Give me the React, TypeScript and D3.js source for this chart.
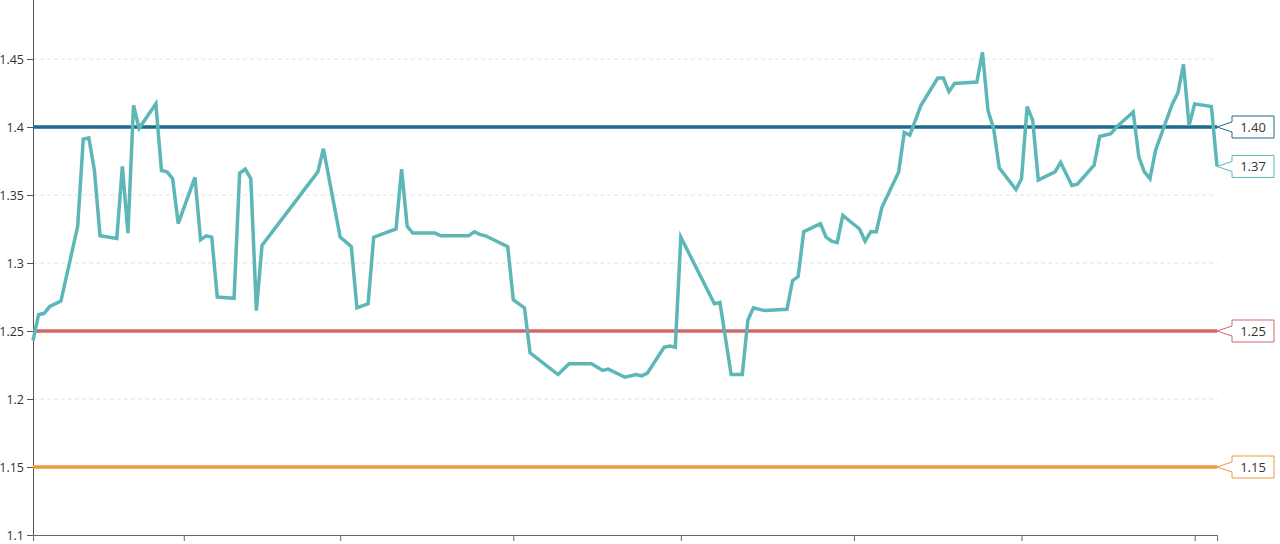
// Rate chart with reference levels
import React, { useRef, useEffect } from "react";
import * as d3 from "d3";

const dates = [
  "2015-01-05", "2015-01-06", "2015-01-07", "2015-01-08", "2015-01-10", "2015-01-13",
  "2015-01-14", "2015-01-15", "2015-01-16", "2015-01-17", "2015-01-20", "2015-01-21",
  "2015-01-22", "2015-01-23", "2015-01-24", "2015-01-27", "2015-01-28", "2015-01-29",
  "2015-01-30", "2015-01-31", "2015-02-03", "2015-02-04", "2015-02-05", "2015-02-06",
  "2015-02-07", "2015-02-10", "2015-02-11", "2015-02-12", "2015-02-13", "2015-02-14",
  "2015-02-15", "2015-02-25", "2015-02-26", "2015-03-01", "2015-03-03", "2015-03-04",
  "2015-03-06", "2015-03-07", "2015-03-11", "2015-03-12", "2015-03-13", "2015-03-14",
  "2015-03-18", "2015-03-19", "2015-03-24", "2015-03-25", "2015-03-26", "2015-03-27",
  "2015-03-31", "2015-04-01", "2015-04-02", "2015-04-03", "2015-04-04", "2015-04-09",
  "2015-04-11", "2015-04-15", "2015-04-17", "2015-04-18", "2015-04-21", "2015-04-23",
  "2015-04-24", "2015-04-25", "2015-04-28", "2015-04-29", "2015-04-30", "2015-05-01",
  "2015-05-07", "2015-05-08", "2015-05-10", "2015-05-12", "2015-05-13", "2015-05-14",
  "2015-05-16", "2015-05-20", "2015-05-21", "2015-05-22", "2015-05-23", "2015-05-26",
  "2015-05-27", "2015-05-28", "2015-05-29", "2015-05-30", "2015-06-02", "2015-06-03",
  "2015-06-04", "2015-06-05", "2015-06-06", "2015-06-09", "2015-06-10", "2015-06-11",
  "2015-06-13", "2015-06-16", "2015-06-17", "2015-06-18", "2015-06-19", "2015-06-23",
  "2015-06-24", "2015-06-25", "2015-06-26", "2015-06-27", "2015-06-30", "2015-07-01",
  "2015-07-02", "2015-07-03", "2015-07-04", "2015-07-07", "2015-07-08", "2015-07-10",
  "2015-07-11", "2015-07-14", "2015-07-15", "2015-07-17", "2015-07-18", "2015-07-21",
  "2015-07-22", "2015-07-23", "2015-07-24", "2015-07-25", "2015-07-28", "2015-07-29",
  "2015-07-30", "2015-07-31", "2015-08-01", "2015-08-04", "2015-08-05",
];

const rates = [
  1.243, 1.262, 1.263, 1.268, 1.272, 1.327,
  1.391, 1.392, 1.368, 1.32, 1.318, 1.371,
  1.322, 1.416, 1.399, 1.417, 1.368, 1.367,
  1.362, 1.329, 1.363, 1.317, 1.32, 1.319,
  1.275, 1.274, 1.366, 1.369, 1.362, 1.265,
  1.313, 1.367, 1.384, 1.319, 1.312, 1.267,
  1.27, 1.319, 1.325, 1.369, 1.327, 1.322,
  1.322, 1.32, 1.32, 1.323, 1.321, 1.32,
  1.312, 1.273, 1.27, 1.267, 1.234, 1.218,
  1.226, 1.226, 1.221, 1.222, 1.216, 1.218,
  1.217, 1.219, 1.238, 1.239, 1.238, 1.319,
  1.27, 1.271, 1.218, 1.218, 1.258, 1.267,
  1.265, 1.266, 1.287, 1.29, 1.323, 1.329,
  1.319, 1.316, 1.315, 1.335, 1.325, 1.316,
  1.323, 1.323, 1.341, 1.367, 1.396, 1.394,
  1.416, 1.436, 1.436, 1.426, 1.432, 1.433,
  1.455, 1.412, 1.399, 1.37, 1.354, 1.362,
  1.415, 1.405, 1.361, 1.367, 1.374, 1.357,
  1.358, 1.372, 1.393, 1.395, 1.4, 1.411,
  1.378, 1.367, 1.362, 1.383, 1.417, 1.425,
  1.446, 1.401, 1.417, 1.415, 1.371,
];

const yTicks = [1.1, 1.15, 1.2, 1.25, 1.3, 1.35, 1.4, 1.45];
const refLevels = [1.4, 1.25, 1.15];

const refColors = ["#1f6a8a", "#d0676b", "#ec9a3a"];
const lineColor = "#5db7b7";

const App: React.FC = () => {
  const chartRef = useRef<SVGSVGElement | null>(null);
  const width = 1280;
  const height = 544;

  useEffect(() => {
    if (!chartRef.current) return;
    const parse = d3.timeParse("%Y-%m-%d");
    const data = dates.map((d, i) => ({ date: parse(d)!, value: rates[i] }));

    const margin = { left: 33, right: 63, bottom: 9 };
    const x0 = margin.left;
    const x1 = width - margin.right;

    const svg = d3.select(chartRef.current);
    svg.selectAll("*").remove();

    // Scales
    const x = d3
      .scaleTime()
      .domain(d3.extent(data, (d) => d.date) as [Date, Date])
      .range([x0, x1]);
    const y = d3
      .scaleLinear()
      .domain([1.1, 1.5])
      .range([height - margin.bottom, -9]);

    // Grid
    svg
      .append("g")
      .attr("class", "grid")
      .selectAll("line")
      .data(yTicks.slice(1))
      .join("line")
      .attr("x1", x0)
      .attr("x2", x1)
      .attr("y1", (d) => y(d))
      .attr("y2", (d) => y(d))
      .attr("stroke", "#e2e2e2")
      .attr("stroke-dasharray", "4,3");

    // Axes
    const yAxis = d3
      .axisLeft(y)
      .tickValues(yTicks)
      .tickSize(6)
      .tickSizeOuter(0)
      .tickFormat((d) => d3.format("~")(d as number));
    const yG = svg
      .append("g")
      .attr("class", "y-axis")
      .attr("transform", `translate(${x0},0)`)
      .call(yAxis);
    yG.selectAll("path, line").attr("stroke", "#555");
    yG.selectAll("text")
      .attr("fill", "#333")
      .style("font-family", "'Open Sans', sans-serif")
      .style("font-size", "12.5px");

    const xAxis = d3
      .axisBottom(x)
      .ticks(d3.timeMonth.every(1))
      .tickSize(6)
      .tickSizeOuter(6)
      .tickFormat(() => "");
    const xG = svg
      .append("g")
      .attr("class", "x-axis")
      .attr("transform", `translate(0,${y(1.1)})`)
      .call(xAxis);
    xG.selectAll("path, line").attr("stroke", "#666");

    // Reference levels
    svg
      .append("g")
      .attr("class", "ref-lines")
      .selectAll("line")
      .data(refLevels)
      .join("line")
      .attr("x1", x0)
      .attr("x2", x1)
      .attr("y1", (d) => y(d))
      .attr("y2", (d) => y(d))
      .attr("stroke", (_d, i) => refColors[i])
      .attr("stroke-width", 3.5);

    // Series line
    const line = d3
      .line<{ date: Date; value: number }>()
      .x((d) => x(d.date))
      .y((d) => y(d.value));
    svg
      .append("path")
      .datum(data)
      .attr("fill", "none")
      .attr("stroke", lineColor)
      .attr("stroke-width", 3.5)
      .attr("d", line);

    // Callout labels at the right end
    const last = data[data.length - 1];
    const labels = [
      ...refLevels.map((v, i) => ({ value: v, color: refColors[i] })),
      { value: last.value, color: lineColor },
    ];
    const bw = 42;
    const bh = 22;
    const gap = 15;
    const notch = 5;
    const callout = (cy: number) => {
      const bx = x1 + gap;
      return `M${x1},${cy}L${bx},${cy - notch}V${cy - bh / 2}H${bx + bw}V${cy + bh / 2}H${bx}V${cy + notch}Z`;
    };
    const lab = svg
      .append("g")
      .attr("class", "callouts")
      .selectAll("g")
      .data(labels)
      .join("g");
    lab
      .append("path")
      .attr("d", (d) => callout(y(d.value)))
      .attr("fill", "white")
      .attr("stroke", (d) => d.color)
      .attr("stroke-width", 1);
    lab
      .append("text")
      .attr("x", x1 + gap + bw / 2)
      .attr("y", (d) => y(d.value))
      .attr("text-anchor", "middle")
      .attr("dominant-baseline", "central")
      .attr("fill", "#333")
      .style("font-family", "'Open Sans', sans-serif")
      .style("font-size", "13px")
      .text((d) => d3.format(".2f")(d.value));
  }, []);

  return (
    <svg
      ref={chartRef}
      width={width}
      height={height}
      style={{ position: "absolute", left: 0, top: 0, background: "white" }}
    />
  );
};

export default App;
